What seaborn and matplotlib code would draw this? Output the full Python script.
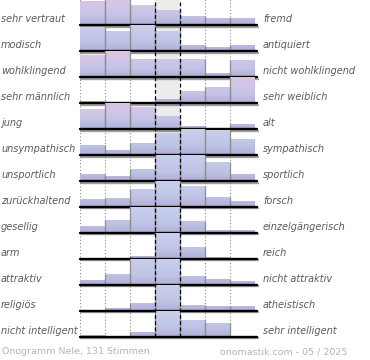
import numpy as np
import pandas as pd
import matplotlib
matplotlib.use("Agg")
import matplotlib.pyplot as plt
import matplotlib.patheffects as pe
from matplotlib.colors import LinearSegmentedColormap
from matplotlib.transforms import blended_transform_factory
import seaborn as sns

# Onogramm data: relative bar heights per row
left_labels = ["sehr vertraut", "modisch", "wohlklingend", "sehr männlich", "jung",
               "unsympathisch", "unsportlich", "zurückhaltend", "gesellig", "arm",
               "attraktiv", "religiös", "nicht intelligent"]
right_labels = ["fremd", "antiquiert", "nicht wohlklingend", "sehr weiblich", "alt",
                "sympathisch", "sportlich", "forsch", "einzelgängerisch", "reich",
                "nicht attraktiv", "atheistisch", "sehr intelligent"]
scale = ["1", "2", "3", "4", "5", "6", "7"]
values = [
    [22, 24, 18, 14, 8, 6, 6.5],
    [22.7, 19, 24.3, 18.7, 5.3, 3.3, 5.3],
    [20.7, 24.7, 17.3, 17.3, 17.3, 4, 15.7],
    [1.7, 0, 0, 4, 11.7, 15, 25],
    [19, 25, 20.7, 12.3, 2.3, 0, 4.7],
    [9, 5, 11.7, 20.7, 24.7, 23.3, 15],
    [6.7, 4.3, 11, 23.7, 24, 17.7, 6.7],
    [6.7, 7.7, 16.7, 23.7, 19.3, 8.7, 5],
    [6.7, 12.7, 24.5, 25, 11.7, 2.7, 2.3],
    [0, 0, 2.7, 25, 11, 2, 0],
    [5, 10.7, 24.5, 25, 8.3, 6, 3.3],
    [0, 3, 7.3, 25, 5.7, 4.7, 4.7],
    [2, 0, 4.3, 25, 15.7, 13.3, 0],
]
footer_left = "Onogramm Nele, 131 Stimmen"
footer_right = "onomastik.com - 05 / 2025"

sns.set_style("white")
plt.rcParams["font.family"] = ["DejaVu Sans"]

pink_cmap = LinearSegmentedColormap.from_list("pink", ["#b2aed8", "#c2c4e6", "#d2c6e8", "#dcc4e4"])
blue_cmap = LinearSegmentedColormap.from_list("blue", ["#b2aed8", "#bec2e4", "#c4cbea", "#c8cfec"])

fig = plt.figure(figsize=(3.7, 3.6), dpi=100)
left, right = 80 / 370, 255 / 370
top, bottom = 1 + 1 / 360, 1 - 336.7 / 360
n = len(values)

# background axes: grey middle column and dotted grid
bg = fig.add_axes([left, bottom, right - left, top - bottom], zorder=0)
bg.set_xlim(-0.5, 6.5)
bg.set_ylim(0, 1)
bg.axvspan(2.5, 3.5, color="#ececec", lw=0)
for xb in [-0.5, 0.5, 1.5, 4.5, 5.5]:
    bg.axvline(xb, color="#888888", lw=0.8, ls=(0, (1, 2)))
bg.axis("off")

axes = fig.subplots(n, 1, gridspec_kw=dict(hspace=0))
fig.subplots_adjust(left=left, right=right, top=top, bottom=bottom)

for i, ax in enumerate(axes):
    ax.set_zorder(1)
    ax.patch.set_alpha(0)
    row = pd.DataFrame({"stufe": scale, "wert": values[i]})
    ymax = max(values[i])
    sns.barplot(data=row, x="stufe", y="wert", color="#c4c8e8", width=1, ax=ax)
    cmap = pink_cmap if int(np.argmax(values[i])) not in (2, 3, 4) else blue_cmap
    grad = np.linspace(0, 1, 256).reshape(-1, 1)
    for j, p in enumerate(ax.patches):
        p.set_facecolor("none")
        p.set_edgecolor("none")
        im = ax.imshow(grad, extent=(-0.5, 6.5, 0, ymax), origin="lower",
                       aspect="auto", cmap=cmap, zorder=1)
        im.set_clip_path(p)
        h = p.get_height()
        if h > 0:
            x0 = p.get_x()
            edges = [x0 + p.get_width()] if j == 0 else [x0, x0 + p.get_width()]
            ax.vlines(edges, 0, h, color="#8e8e8e", lw=0.9, zorder=2)
    ax.set_xlim(-0.5, 6.5)
    ax.set_ylim(0, ymax)
    ax.axhline(0, xmin=0, xmax=1.012, color="black", lw=1.7, clip_on=False, zorder=5,
               path_effects=[pe.SimpleLineShadow(offset=(0.5, -1.2), shadow_color="#777777", alpha=0.7),
                             pe.Normal()])
    ax.axis("off")
    tr = blended_transform_factory(fig.transFigure, ax.transAxes)
    ax.text(1 / 370, 0.22, left_labels[i], transform=tr, ha="left", va="center",
            fontsize=7, style="italic", color="#5a5a5a")
    ax.text(263 / 370, 0.22, right_labels[i], transform=tr, ha="left", va="center",
            fontsize=7, style="italic", color="#5a5a5a")

# overlay axes: dashed borders of the middle column
ov = fig.add_axes([left, bottom, right - left, top - bottom], zorder=3)
ov.set_xlim(-0.5, 6.5)
ov.set_ylim(0, 1)
for xb in [2.5, 3.5]:
    ov.axvline(xb, color="black", lw=0.9, ls=(0, (3, 2)))
ov.axis("off")

fig.text(2 / 370, 1 - 352 / 360, footer_left, ha="left", va="center", fontsize=6.8, color="#b4b4b4")
fig.text(347 / 370, 1 - 352 / 360, footer_right, ha="right", va="center", fontsize=6.8, color="#b4b4b4")

fig.savefig("out.png", dpi=100)
